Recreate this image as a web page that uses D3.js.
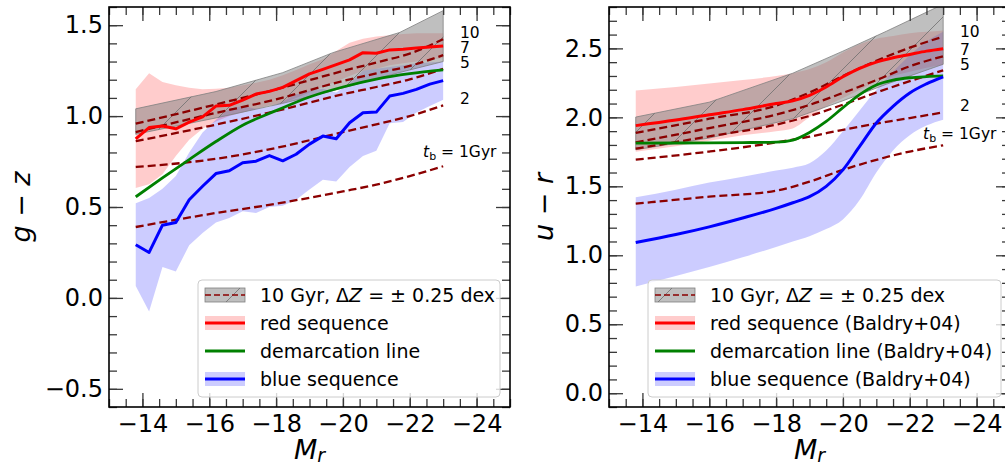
<!DOCTYPE html>
<html>
<head>
<meta charset="utf-8">
<script src="https://cdn.jsdelivr.net/npm/d3@7"></script>
<style>
  body { margin: 0; background: #fff; }
  svg { font-family: "DejaVu Sans", sans-serif; }
</style>
</head>
<body>
<svg id="chart" width="1005" height="468"></svg>
<script>
// ---------- g - z panel (binned medians, 0.4 mag bins) ----------
const gzMag      = [-13.8, -14.2, -14.6, -15.0, -15.4, -15.8, -16.2, -16.6, -17.0, -17.4, -17.8, -18.2,
                    -18.6, -19.0, -19.4, -19.8, -20.2, -20.6, -21.0, -21.4, -21.8, -22.2, -22.6, -23.0];
const gzRed      = [0.875, 0.937, 0.945, 0.930, 0.967, 0.996, 1.055, 1.059, 1.088, 1.121, 1.136, 1.158,
                    1.195, 1.232, 1.257, 1.283, 1.309, 1.349, 1.346, 1.364, 1.368, 1.375, 1.380, 1.386];
const gzRedHi    = [1.147, 1.235, 1.188, 1.169, 1.156, 1.147, 1.151, 1.156, 1.169, 1.184, 1.200, 1.224,
                    1.254, 1.285, 1.312, 1.358, 1.404, 1.426, 1.438, 1.445, 1.452, 1.456, 1.456, 1.456];
const gzRedLo    = [0.605, 0.625, 0.680, 0.780, 0.870, 0.930, 0.970, 1.000, 1.020, 1.040, 1.060, 1.070,
                    1.100, 1.130, 1.160, 1.190, 1.220, 1.250, 1.260, 1.280, 1.290, 1.300, 1.310, 1.320];
const gzBlue     = [0.292, 0.250, 0.400, 0.415, 0.540, 0.614, 0.684, 0.699, 0.743, 0.752, 0.783, 0.754,
                    0.790, 0.846, 0.890, 0.875, 0.963, 1.018, 1.022, 1.110, 1.125, 1.147, 1.176, 1.195];
const gzBlueHi   = [0.520, 0.550, 0.600, 0.670, 0.800, 0.910, 0.980, 1.040, 1.055, 1.040, 1.050, 1.080,
                    1.120, 1.140, 1.150, 1.130, 1.180, 1.250, 1.260, 1.270, 1.280, 1.290, 1.295, 1.300];
const gzBlueLo   = [0.066, -0.075, 0.170, 0.145, 0.290, 0.357, 0.415, 0.440, 0.476, 0.467, 0.500, 0.507,
                    0.540, 0.596, 0.650, 0.640, 0.720, 0.780, 0.810, 0.960, 0.967, 1.020, 1.055, 1.090];
const gzDemMag   = [-13.8, -14.6, -15.4, -16.2, -17.0, -18.0, -19.0, -20.0, -21.0, -22.0, -23.0];
const gzDem      = [0.556, 0.660, 0.761, 0.860, 0.950, 1.030, 1.105, 1.160, 1.203, 1.233, 1.254];
const gzZMag     = [-13.8, -16.2, -18.2, -19.7, -21.7, -23.0];
const gzZHi      = [1.040, 1.135, 1.239, 1.349, 1.460, 1.580];
const gzZLo      = [0.900, 0.990, 1.070, 1.140, 1.240, 1.300];
const gzAgeMag   = [-13.8, -16.0, -18.0, -20.0, -21.0, -22.0, -23.0];
const gzAge10    = [0.958, 1.055, 1.147, 1.248, 1.295, 1.344, 1.423];
const gzAge7     = [0.912, 1.009, 1.092, 1.193, 1.235, 1.276, 1.335];
const gzAge5     = [0.862, 0.945, 1.028, 1.120, 1.160, 1.202, 1.260];
const gzAge2     = [0.720, 0.760, 0.825, 0.912, 0.955, 1.000, 1.059];
const gzAge1     = [0.390, 0.461, 0.518, 0.586, 0.623, 0.670, 0.724];

// ---------- u - r panel (Baldry et al. 2004 relations) ----------
const urMag      = [-13.8, -15.0, -16.0, -17.0, -18.0, -18.5, -19.0, -19.5, -20.0, -20.5, -21.0, -21.5, -22.0, -22.5, -23.0];
const urRed      = [1.940, 1.980, 2.019, 2.056, 2.100, 2.120, 2.160, 2.220, 2.294, 2.355, 2.400, 2.432, 2.456, 2.480, 2.498];
const urRedHi    = [2.194, 2.220, 2.245, 2.270, 2.300, 2.320, 2.350, 2.400, 2.470, 2.530, 2.570, 2.590, 2.610, 2.620, 2.630];
const urRedLo    = [1.750, 1.790, 1.830, 1.870, 1.900, 1.920, 2.000, 2.080, 2.140, 2.200, 2.260, 2.300, 2.330, 2.360, 2.380];
const urBlue     = [1.092, 1.150, 1.206, 1.270, 1.340, 1.381, 1.425, 1.500, 1.619, 1.789, 1.959, 2.080, 2.177, 2.243, 2.294];
const urBlueHi   = [1.420, 1.475, 1.527, 1.570, 1.614, 1.635, 1.667, 1.760, 1.900, 2.050, 2.200, 2.330, 2.450, 2.550, 2.620];
const urBlueLo   = [0.774, 0.850, 0.915, 0.985, 1.060, 1.100, 1.138, 1.190, 1.260, 1.400, 1.600, 1.760, 1.870, 1.940, 1.983];
const urDem      = [1.813, 1.814, 1.815, 1.817, 1.820, 1.835, 1.890, 1.970, 2.070, 2.165, 2.235, 2.270, 2.287, 2.295, 2.300];
const urZMag     = [-13.8, -16.0, -18.5, -20.0, -21.3, -23.0];
const urZHi      = [2.002, 2.110, 2.320, 2.480, 2.624, 2.820];
const urZLo      = [1.765, 1.850, 1.990, 2.120, 2.240, 2.385];
const urAgeMag   = [-13.8, -16.0, -18.0, -19.0, -20.0, -21.0, -22.0, -23.0];
const urAge10    = [1.887, 1.990, 2.085, 2.180, 2.300, 2.410, 2.505, 2.585];
const urAge7     = [1.818, 1.922, 2.020, 2.090, 2.177, 2.270, 2.370, 2.443];
const urAge5     = [1.773, 1.862, 1.947, 2.010, 2.092, 2.180, 2.262, 2.341];
const urAge2     = [1.693, 1.752, 1.818, 1.860, 1.910, 1.955, 1.995, 2.036];
const urAge1     = [1.374, 1.425, 1.468, 1.534, 1.619, 1.692, 1.752, 1.797];

// ---------- shared tick labels ----------
const magTicks = [-14, -16, -18, -20, -22, -24];
const gzTicks  = [-0.5, 0.0, 0.5, 1.0, 1.5];
const urTicks  = [0.0, 0.5, 1.0, 1.5, 2.0, 2.5];
const ageNames = ["10", "7", "5", "2"];

const legendLeft  = ["red sequence", "demarcation line", "blue sequence"];
const legendRight = ["red sequence (Baldry+04)", "demarcation line (Baldry+04)", "blue sequence (Baldry+04)"];

// ---------- helpers ----------
const pts  = (ms, vs) => ms.map((m, i) => ({ m, v: vs[i] }));
const band = (ms, lo, hi) => ms.map((m, i) => ({ m, lo: lo[i], hi: hi[i] }));

const svg  = d3.select("#chart");
const defs = svg.append("defs");

// diagonal hatch for the metallicity band
defs.append("pattern")
  .attr("id", "hatch")
  .attr("patternUnits", "userSpaceOnUse")
  .attr("width", 48).attr("height", 48)
  .append("path")
  .attr("d", "M-12,12L12,-12M0,48L48,0M36,60L60,36")
  .attr("stroke", "#6e6e6e").attr("stroke-width", 0.8).attr("fill", "none");

const W = 401, TOP = 7, BOTTOM = 407;
const DARKRED = "#8b0000";

function drawPanel(p) {
  const x = d3.scaleLinear().domain([-13, -25]).range([p.left, p.left + W]);
  const y = d3.scaleLinear().domain(p.yDomain).range([BOTTOM, TOP]);
  const g = svg.append("g");

  defs.append("clipPath").attr("id", "clip-" + p.id)
    .append("rect").attr("x", p.left).attr("y", TOP).attr("width", W).attr("height", BOTTOM - TOP);
  const plot = g.append("g").attr("clip-path", `url(#clip-${p.id})`);

  const area = curve => d3.area().x(d => x(d.m)).y0(d => y(d.lo)).y1(d => y(d.hi)).curve(curve);
  const line = curve => d3.line().x(d => x(d.m)).y(d => y(d.v)).curve(curve);

  // scatter bands
  plot.append("path").attr("d", area(p.seqCurve)(p.redBand)).attr("fill", "#ff0000").attr("fill-opacity", 0.2);
  plot.append("path").attr("d", area(p.seqCurve)(p.blueBand)).attr("fill", "#0000ff").attr("fill-opacity", 0.2);

  // 10 Gyr, +-0.25 dex metallicity band
  plot.append("path").attr("d", area(d3.curveLinear)(p.zBand))
    .attr("fill", "#808080").attr("fill-opacity", 0.5)
    .attr("stroke", "#808080").attr("stroke-width", 0.8);
  plot.append("path").attr("d", area(d3.curveLinear)(p.zBand)).attr("fill", "url(#hatch)");

  // model tracks for different burst ages
  p.ages.forEach(a => {
    plot.append("path").attr("d", line(d3.curveMonotoneX)(a))
      .attr("fill", "none").attr("stroke", DARKRED).attr("stroke-width", 2.3)
      .attr("stroke-dasharray", "8,4");
  });

  plot.append("path").attr("d", line(d3.curveMonotoneX)(p.dem))
    .attr("fill", "none").attr("stroke", "#008000").attr("stroke-width", 2.8);
  plot.append("path").attr("d", line(p.seqCurve)(p.red))
    .attr("fill", "none").attr("stroke", "#ff0000").attr("stroke-width", 3).attr("stroke-linejoin", "round");
  plot.append("path").attr("d", line(p.seqCurve)(p.blue))
    .attr("fill", "none").attr("stroke", "#0000ff").attr("stroke-width", 3).attr("stroke-linejoin", "round");

  // age annotations
  const ann = g.append("g").attr("font-size", 15.5).attr("fill", "#000");
  ageNames.forEach((t, i) => {
    ann.append("text").attr("x", x(-23.5)).attr("y", y(p.ageLabelY[i]))
      .attr("dominant-baseline", "central").text(t);
  });
  const tb = ann.append("text").attr("x", x(-22.4)).attr("y", y(p.tbLabelY)).attr("dominant-baseline", "central");
  tb.append("tspan").attr("font-style", "italic").text("t");
  tb.append("tspan").attr("font-size", 11).attr("dy", 4).text("b");
  tb.append("tspan").attr("dy", -4).text(" = 1Gyr");

  // axes with inward ticks on every side
  const xMinor = d3.range(-25, -12.9, 0.5);
  const yMinor = d3.range(Math.ceil(p.yDomain[0] * 10), Math.floor(p.yDomain[1] * 10) + 1).map(k => k / 10);
  const axes = g.append("g");
  const add = (axis, tr) => axes.append("g").attr("transform", tr).call(axis);
  add(d3.axisBottom(x).tickValues(xMinor).tickSize(-8).tickFormat(""), `translate(0,${BOTTOM})`);
  add(d3.axisBottom(x).tickValues(magTicks).tickSize(-14).tickPadding(8).tickFormat(d3.format("d")), `translate(0,${BOTTOM})`);
  add(d3.axisTop(x).tickValues(xMinor).tickSize(-8).tickFormat(""), `translate(0,${TOP})`);
  add(d3.axisTop(x).tickValues(magTicks).tickSize(-14).tickFormat(""), `translate(0,${TOP})`);
  add(d3.axisLeft(y).tickValues(yMinor).tickSize(-8).tickFormat(""), `translate(${p.left},0)`);
  add(d3.axisLeft(y).tickValues(p.yTicks).tickSize(-14).tickPadding(6).tickFormat(d3.format(".1f")), `translate(${p.left},0)`);
  add(d3.axisRight(y).tickValues(yMinor).tickSize(-8).tickFormat(""), `translate(${p.left + W},0)`);
  add(d3.axisRight(y).tickValues(p.yTicks).tickSize(-14).tickFormat(""), `translate(${p.left + W},0)`);
  axes.selectAll(".domain").remove();
  axes.selectAll(".tick line").attr("stroke", "#3a3a3a").attr("stroke-width", 1.3);
  axes.selectAll("g").attr("font-family", null).attr("font-size", null);
  axes.selectAll(".tick text").attr("font-size", 24).attr("fill", "#000");

  g.append("rect").attr("x", p.left).attr("y", TOP).attr("width", W).attr("height", BOTTOM - TOP)
    .attr("fill", "none").attr("stroke", "#000").attr("stroke-width", 1.6);

  // axis titles
  const xt = g.append("text").attr("x", p.left + W / 2).attr("y", 459)
    .attr("text-anchor", "middle").attr("font-size", 27);
  xt.append("tspan").attr("font-style", "italic").text("M");
  xt.append("tspan").attr("font-style", "italic").attr("font-size", 19).attr("dy", 3).text("r");

  const yt = g.append("text")
    .attr("transform", `translate(${p.yTitleX},${(TOP + BOTTOM) / 2}) rotate(-90)`)
    .attr("text-anchor", "middle").attr("font-size", 27);
  yt.append("tspan").attr("font-style", "italic").text(p.yTitle[0]);
  yt.append("tspan").text(" \u2212 ");
  yt.append("tspan").attr("font-style", "italic").text(p.yTitle[1]);

  // legend
  const lg = g.append("g");
  const lx = p.legend.x, lw = p.legend.w;
  lg.append("rect").attr("x", lx).attr("y", 280).attr("width", lw).attr("height", 117).attr("rx", 4)
    .attr("fill", "#fff").attr("fill-opacity", 0.8).attr("stroke", "#cccccc").attr("stroke-width", 1);
  const hx = lx + 7, hw = 40, tx = lx + 62;
  const rowY = [295, 323, 351, 379];

  lg.append("rect").attr("x", hx).attr("y", rowY[0] - 7).attr("width", hw).attr("height", 14)
    .attr("fill", "#808080").attr("fill-opacity", 0.5).attr("stroke", "#808080").attr("stroke-width", 0.8);
  lg.append("rect").attr("x", hx).attr("y", rowY[0] - 7).attr("width", hw).attr("height", 14).attr("fill", "url(#hatch)");
  lg.append("line").attr("x1", hx).attr("x2", hx + hw).attr("y1", rowY[0]).attr("y2", rowY[0])
    .attr("stroke", DARKRED).attr("stroke-width", 1.6).attr("stroke-dasharray", "6,3");

  lg.append("rect").attr("x", hx).attr("y", rowY[1] - 7).attr("width", hw).attr("height", 14)
    .attr("fill", "#ff0000").attr("fill-opacity", 0.2);
  lg.append("line").attr("x1", hx).attr("x2", hx + hw).attr("y1", rowY[1]).attr("y2", rowY[1])
    .attr("stroke", "#ff0000").attr("stroke-width", 3);
  lg.append("line").attr("x1", hx).attr("x2", hx + hw).attr("y1", rowY[2]).attr("y2", rowY[2])
    .attr("stroke", "#008000").attr("stroke-width", 2.8);
  lg.append("rect").attr("x", hx).attr("y", rowY[3] - 7).attr("width", hw).attr("height", 14)
    .attr("fill", "#0000ff").attr("fill-opacity", 0.2);
  lg.append("line").attr("x1", hx).attr("x2", hx + hw).attr("y1", rowY[3]).attr("y2", rowY[3])
    .attr("stroke", "#0000ff").attr("stroke-width", 3);

  const lt = lg.append("g").attr("font-size", 19).attr("fill", "#000");
  const t0 = lt.append("text").attr("x", tx).attr("y", rowY[0]).attr("dominant-baseline", "central");
  t0.append("tspan").text("10 Gyr, \u0394");
  t0.append("tspan").attr("font-style", "italic").text("Z");
  t0.append("tspan").text(" = \u00b1 0.25 dex");
  p.legendText.forEach((t, i) => {
    lt.append("text").attr("x", tx).attr("y", rowY[i + 1]).attr("dominant-baseline", "central").text(t);
  });
}

drawPanel({
  id: "gz", left: 109, yDomain: [-0.6, 1.6], yTicks: gzTicks, yTitle: ["g", "z"], yTitleX: 30,
  seqCurve: d3.curveLinear,
  red: pts(gzMag, gzRed), blue: pts(gzMag, gzBlue),
  redBand: band(gzMag, gzRedLo, gzRedHi), blueBand: band(gzMag, gzBlueLo, gzBlueHi),
  dem: pts(gzDemMag, gzDem),
  zBand: band(gzZMag, gzZLo, gzZHi),
  ages: [gzAge10, gzAge7, gzAge5, gzAge2, gzAge1].map(a => pts(gzAgeMag, a)),
  ageLabelY: [1.456, 1.373, 1.290, 1.092], tbLabelY: 0.805,
  legend: { x: 198, w: 302 }, legendText: legendLeft
});

drawPanel({
  id: "ur", left: 609, yDomain: [-0.1, 2.8], yTicks: urTicks, yTitle: ["u", "r"], yTitleX: 553,
  seqCurve: d3.curveMonotoneX,
  red: pts(urMag, urRed), blue: pts(urMag, urBlue),
  redBand: band(urMag, urRedLo, urRedHi), blueBand: band(urMag, urBlueLo, urBlueHi),
  dem: pts(urMag, urDem),
  zBand: band(urZMag, urZLo, urZHi),
  ages: [urAge10, urAge7, urAge5, urAge2, urAge1].map(a => pts(urAgeMag, a)),
  ageLabelY: [2.622, 2.490, 2.380, 2.085], tbLabelY: 1.880,
  legend: { x: 648, w: 353 }, legendText: legendRight
});
</script>
</body>
</html>
